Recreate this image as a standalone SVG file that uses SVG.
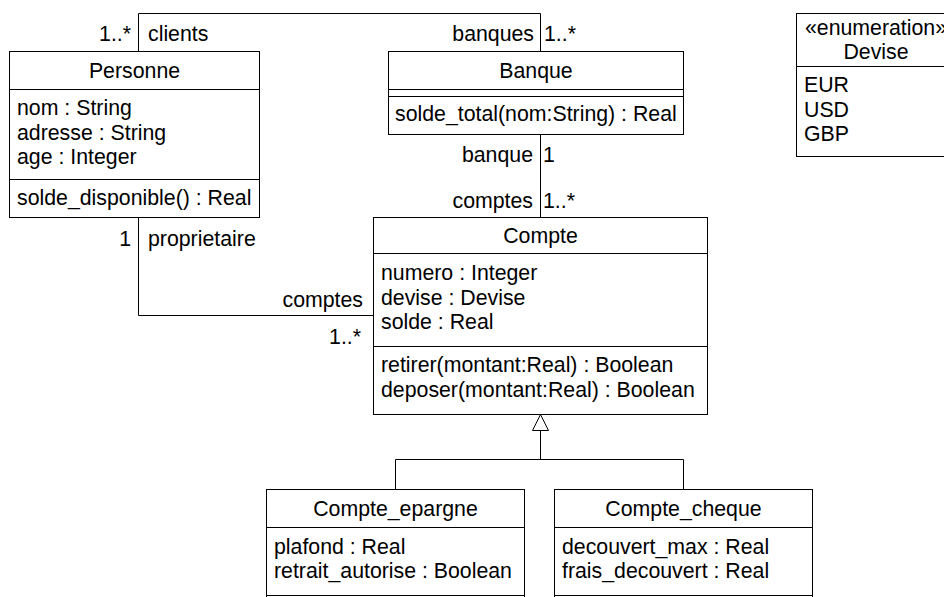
<svg xmlns="http://www.w3.org/2000/svg" width="944" height="597" viewBox="0 0 944 597">
<style>
text{font-family:"Liberation Sans",Arial,sans-serif;font-size:21.3px;fill:#000}
.c{text-anchor:middle}
.e{text-anchor:end}
.box{fill:#fff;stroke:#000;stroke-width:1}
.ln{fill:none;stroke:#000;stroke-width:1}
</style>
<rect width="944" height="597" fill="#fff"/>
<g id="connectors">
<path class="ln" d="M138.5,51.5 V13.5 H540.5 V51.5"/>
<path class="ln" d="M540.5,134.5 V217.5"/>
<path class="ln" d="M138.5,217.5 V315.5 H373.5"/>
<path class="ln" d="M540.5,430.5 V459.5 M395.5,459.5 H683.5 M395.5,459.5 V489.5 M683.5,459.5 V489.5"/>
<polygon class="box" points="540.5,414.5 548.5,430.5 532.5,430.5"/>
<text class="e" x="131" y="41">1..*</text>
<text x="148" y="41">clients</text>
<text class="e" x="534" y="41">banques</text>
<text x="544" y="41">1..*</text>
<text class="e" x="533" y="162">banque</text>
<text x="543" y="162">1</text>
<text class="e" x="533" y="208">comptes</text>
<text x="543" y="208">1..*</text>
<text class="e" x="131" y="246">1</text>
<text x="148" y="246">proprietaire</text>
<text class="e" x="363" y="307">comptes</text>
<text class="e" x="361" y="344">1..*</text>
</g>
<g id="Personne">
<rect class="box" x="9.5" y="51.5" width="250" height="166"/>
<path class="ln" d="M9.5,89.5 H259.5 M9.5,179.5 H259.5"/>
<text class="c" x="134.5" y="78">Personne</text>
<text x="17" y="115">nom : String</text>
<text x="17" y="139.5">adresse : String</text>
<text x="17" y="164">age : Integer</text>
<text x="17" y="205">solde_disponible() : Real</text>
</g>
<g id="Banque">
<rect class="box" x="388.5" y="51.5" width="295" height="83"/>
<path class="ln" d="M388.5,89.5 H683.5 M388.5,96.5 H683.5"/>
<text class="c" x="536" y="78">Banque</text>
<text x="395" y="121">solde_total(nom:String) : Real</text>
</g>
<g id="Devise">
<rect class="box" x="796.5" y="13.5" width="160" height="143"/>
<path class="ln" d="M796.5,66.5 H956.5"/>
<text class="c" x="876" y="35">«enumeration»</text>
<text class="c" x="876" y="59">Devise</text>
<text x="804" y="92">EUR</text>
<text x="804" y="116.5">USD</text>
<text x="804" y="141">GBP</text>
</g>
<g id="Compte">
<rect class="box" x="373.5" y="217.5" width="334" height="197"/>
<path class="ln" d="M373.5,253.5 H707.5 M373.5,346.5 H707.5"/>
<text class="c" x="540.5" y="243">Compte</text>
<text x="381" y="280">numero : Integer</text>
<text x="381" y="304.5">devise : Devise</text>
<text x="381" y="329">solde : Real</text>
<text x="381" y="372">retirer(montant:Real) : Boolean</text>
<text x="381" y="396.5">deposer(montant:Real) : Boolean</text>
</g>
<g id="Compte_epargne">
<rect class="box" x="266.5" y="489.5" width="258" height="120"/>
<path class="ln" d="M266.5,527.5 H524.5 M266.5,595.5 H524.5"/>
<text class="c" x="395.5" y="516">Compte_epargne</text>
<text x="274" y="553.5">plafond : Real</text>
<text x="274" y="578">retrait_autorise : Boolean</text>
</g>
<g id="Compte_cheque">
<rect class="box" x="554.5" y="489.5" width="258" height="120"/>
<path class="ln" d="M554.5,527.5 H812.5 M554.5,595.5 H812.5"/>
<text class="c" x="683.5" y="516">Compte_cheque</text>
<text x="562" y="553.5">decouvert_max : Real</text>
<text x="562" y="578">frais_decouvert : Real</text>
</g>
</svg>
